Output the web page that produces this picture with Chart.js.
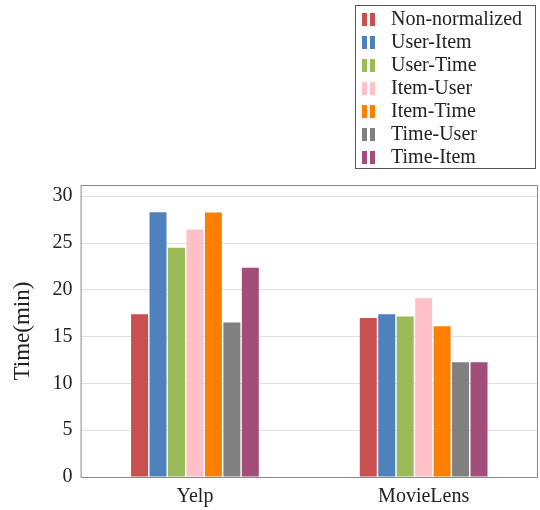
<!DOCTYPE html>
<html>
<head>
<meta charset="utf-8">
<script src="https://cdn.jsdelivr.net/npm/chart.js@4.4.0/dist/chart.umd.min.js"></script>
<style>
  body { margin: 0; background: #fff; }
  #wrap { position: relative; width: 540px; height: 510px; }
  #legend {
    position: absolute; left: 355px; top: 5px; width: 181px; height: 164px;
    border: 1px solid #555; box-sizing: border-box; padding: 1px 0 0 6px;
    font-family: "Liberation Serif", serif; font-size: 20px; color: #222;
  }
  .item { height: 23px; line-height: 23px; white-space: nowrap; }
  .sw { display: inline-block; width: 5px; height: 13px; margin-right: 3px; vertical-align: -1px; }
  .sw + .sw { margin-right: 16px; }
</style>
</head>
<body>
<div id="wrap">
  <canvas id="myChart" width="540" height="510"></canvas>
  <div id="legend"></div>
</div>
<script>
var categories = ['Yelp', 'MovieLens'];
var seriesNames = ['Non-normalized', 'User-Item', 'User-Time', 'Item-User', 'Item-Time', 'Time-User', 'Time-Item'];
var seriesColors = ['#c8504f', '#4f81bd', '#9bbb59', '#ffc0c8', '#ff8000', '#808080', '#a24d7a'];
var nonNormalized = [17.4, 17.0];
var userItem = [28.3, 17.4];
var userTime = [24.5, 17.15];
var itemUser = [26.45, 19.1];
var itemTime = [28.25, 16.1];
var timeUser = [16.5, 12.25];
var timeItem = [22.35, 12.25];
var yTicks = [0, 5, 10, 15, 20, 25, 30];

var allValues = [nonNormalized, userItem, userTime, itemUser, itemTime, timeUser, timeItem];

// khung xung quanh vùng vẽ
var boxPlugin = {
    id: 'box',
    afterDraw: function(chart) {
        var a = chart.chartArea, ctx = chart.ctx;
        ctx.save();
        ctx.strokeStyle = '#8a8a8a';
        ctx.lineWidth = 1;
        ctx.strokeRect(a.left + 0.5, a.top + 0.5, a.right - a.left - 1, a.bottom - a.top);
        ctx.restore();
    }
};

var chart = new Chart("myChart", {
    type: "bar",
    data: {
        labels: categories,
        datasets: seriesNames.map(function(name, i) {
            return {
                label: name,
                data: allValues[i],
                backgroundColor: seriesColors[i],
                borderWidth: 0
            };
        })
    },
    options: {
        responsive: false,
        animation: false,
        layout: { padding: { top: 185, right: 2, left: 5, bottom: 1 } },
        datasets: { bar: { categoryPercentage: 0.565, barPercentage: 0.92 } },
        plugins: { legend: { display: false }, tooltip: { enabled: false } },
        scales: {
            x: {
                offset: true,
                grid: { display: false },
                border: { display: false },
                ticks: { color: '#222', font: { family: 'Liberation Serif', size: 20 }, padding: 0 }
            },
            y: {
                min: 0,
                max: 31.2,
                afterBuildTicks: function(axis) {
                    axis.ticks = yTicks.map(function(v) { return { value: v }; });
                },
                grid: { color: '#e2e2e2', drawTicks: false },
                border: { display: false },
                ticks: { color: '#222', font: { family: 'Liberation Serif', size: 20 }, padding: 8 },
                title: {
                    display: true,
                    text: 'Time(min)',
                    color: '#222',
                    font: { family: 'Liberation Serif', size: 23 },
                    padding: { bottom: 8 }
                }
            }
        }
    },
    plugins: [boxPlugin]
});

// chú thích dạng HTML
var legend = document.getElementById('legend');
seriesNames.forEach(function(name, i) {
    var row = document.createElement('div');
    row.className = 'item';
    row.innerHTML = '<span class="sw" style="background:' + seriesColors[i] + '"></span>' +
        '<span class="sw" style="background:' + seriesColors[i] + '"></span>' + name;
    legend.appendChild(row);
});
</script>
</body>
</html>
